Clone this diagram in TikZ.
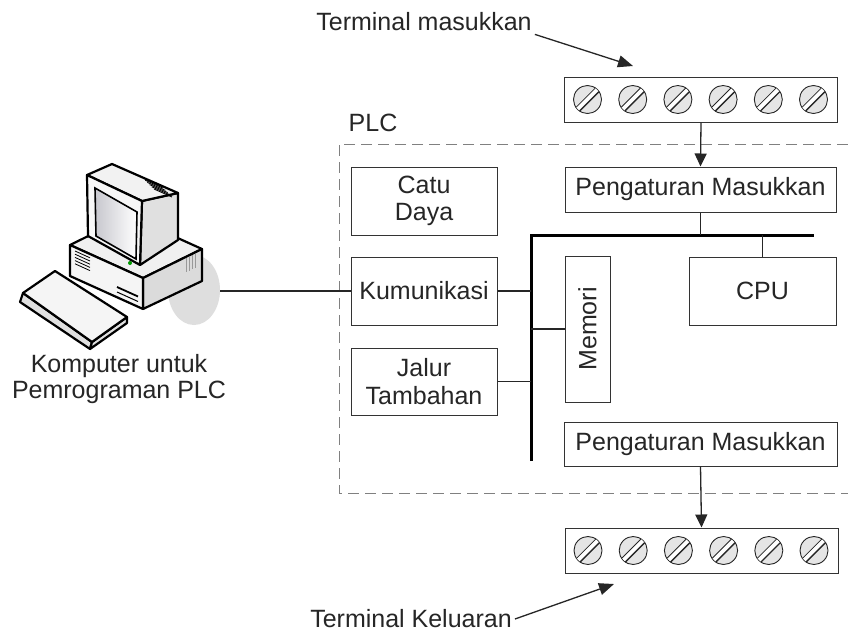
\documentclass[tikz,border=0pt]{standalone}
\usepackage{fontspec}
\setmainfont{Liberation Sans}
\usetikzlibrary{arrows.meta}

\tikzset{
  kotak/.style={draw=black!80, line width=1pt, fill=white, text=black!85, align=center, inner sep=0pt},
  sambung/.style={draw=black!85, line width=1.3pt},
  bus/.style={draw=black, line width=3pt},
  panah/.style={sambung, -{Triangle[length=13pt,width=12pt]}},
  tunjuk/.style={sambung, line width=1.3pt, -{Triangle[length=15pt,width=12pt]}},
  tulisan/.style={text=black!85, inner sep=3pt},
  garis/.style={line width=2.2pt, line join=round},
}

\begin{document}
\begin{tikzpicture}[x=1pt, y=-1pt, font=\fontsize{25}{27.5}\selectfont]
    \useasboundingbox (0,0) rectangle (848,635);
    \fill[white] (0,0) rectangle (848,635);

    % bingkai PLC
    \draw[gray, line width=0.8pt, dash pattern=on 11pt off 6pt]
        (848,144) -- (339,144) -- (339,493) -- (848,493);
    \node[tulisan] (plc) at (373,123) {PLC};

    % modul di dalam PLC
    \node[kotak, minimum width=146pt, minimum height=68pt] (catu) at (424,201) {Catu\\Daya};
    \node[kotak, minimum width=146pt, minimum height=68pt] (kom) at (424,291) {Kumunikasi};
    \node[kotak, minimum width=146pt, minimum height=67pt] (jalur) at (424,381.5) {Jalur\\Tambahan};
    \node[kotak, rotate=90, minimum width=146pt, minimum height=45pt] (memori) at (587.5,329) {Memori};
    \node[kotak, minimum width=147pt, minimum height=68pt] (cpu) at (762.5,291) {CPU};
    \node[kotak, minimum width=271pt, minimum height=45pt] (pmasuk) at (700.5,189.5) {Pengaturan Masukkan};
    \node[kotak, minimum width=273pt, minimum height=44pt] (pkeluar) at (700.5,444) {Pengaturan Masukkan};

    % terminal
    \node[kotak, minimum width=273pt, minimum height=45pt] (tmasuk) at (701,99.5) {};
    \node[kotak, minimum width=273pt, minimum height=45pt] (tkeluar) at (701.5,550.5) {};
    \foreach \blok in {tmasuk,tkeluar}{
    \foreach \i in {0,...,5}{
        \path (\blok.west) ++(23.5+45.2*\i,0) coordinate (sk);
        \begin{scope}[shift={(sk)}, rotate=45]
            \draw[black!85, fill=black!10, line width=0.9pt] (0,0) circle[radius=14pt];
            \fill[white] (-13.5,-2.6) rectangle (13.5,2.6);
            \draw[black!85, line width=0.8pt] (-13.75,-2.6) -- (13.75,-2.6);
            \draw[black!85, line width=1.4pt] (-13.75,2.6) -- (13.75,2.6);
        \end{scope}
    }}

    % bus
    \coordinate (busAtas) at (531,235);
    \coordinate (busBawah) at (531,461);
    \coordinate (busKanan) at (814,235);
    \draw[bus] (busBawah) -- (busAtas) -- (busKanan);
    \draw[sambung] (kom.east) -- (kom.east -| busAtas);
    \draw[sambung] (jalur.east) -- (jalur.east -| busAtas);
    \draw[sambung] (memori.north -| busAtas) -- (memori.north);
    \draw[sambung] (pmasuk.south) -- (pmasuk.south |- busAtas);
    \draw[sambung] (cpu.north) -- (cpu.north |- busAtas);

    \draw[panah] (tmasuk.south) -- (pmasuk.north);
    \draw[panah] (pkeluar.south) -- (tkeluar.north);

    % keterangan terminal
    \node[tulisan] (lblMasuk) at (424,22) {Terminal masukkan};
    \coordinate (ujungMasuk) at (633,66);
    \draw[tunjuk] (lblMasuk.south east) -- (ujungMasuk);
    \node[tulisan] (lblKeluar) at (411,619) {Terminal Keluaran};
    \coordinate (ujungKeluar) at (614,584);
    \draw[tunjuk] (lblKeluar.east) -- (ujungKeluar);

    % komputer
    \coordinate (pc) at (170,291);
    \draw[sambung] (pc) -- (kom.west);
    \fill[black!13] (194,290) ellipse[x radius=26pt, y radius=35pt];
    \draw[garis, fill=black!6] (70,245) -- (129,216) -- (202,249) -- (143,278) -- cycle;
    \draw[garis, fill=black!14] (143,278) -- (202,249) -- (202,281) -- (143,309) -- cycle;
    \draw[garis, fill=black!4] (70,245) -- (143,278) -- (143,309) -- (70,276) -- cycle;
    \foreach \k in {0,...,4}
        \draw[line width=0.8pt] (75,251+3.2*\k) -- ++(15,6.8);
    \draw[line width=1.8pt] (117,287) -- (138,296.5);
    \draw[line width=1pt] (117,292) -- (138,301.5);
    \foreach \k in {0,...,3}
        \draw[black!40, line width=0.7pt] (186+3*\k,258-1.5*\k) -- ++(0,14);
    % layar
    \draw[garis, fill=black!12] (142,201) -- (178,193) -- (178,240) -- (140,265) -- cycle;
    \draw[garis, fill=black!5] (87,175) -- (112,164) -- (178,193) -- (142,201) -- cycle;
    \foreach \k in {0,...,5}
        \draw[line width=0.9pt] (143+2.2*\k,178+2.2*\k) -- ++(18,8);
    \draw[garis, fill=black!3] (87,175) -- (142,201) -- (140,265) -- (88,236) -- cycle;
    \draw[line width=1.6pt, left color=blue!12!black!22, right color=white]
        (95,188) -- (137,212) -- (136,259) -- (96,236) -- cycle;
    \fill[green!60!black] (130,263) circle[radius=2pt];
    % papan ketik
    \draw[garis, fill=black!12] (20,302) -- (23,293) -- (92,342) -- (90,349) -- cycle;
    \draw[garis, fill=black!12] (92,342) -- (127,317) -- (127,323) -- (90,349) -- cycle;
    \draw[garis, fill=black!4] (23,293) -- (55,271) -- (127,317) -- (92,342) -- cycle;
    \node[tulisan, align=center] (lblPC) at (119,379) {Komputer untuk\\[-2pt]Pemrograman PLC};
\end{tikzpicture}
\end{document}
